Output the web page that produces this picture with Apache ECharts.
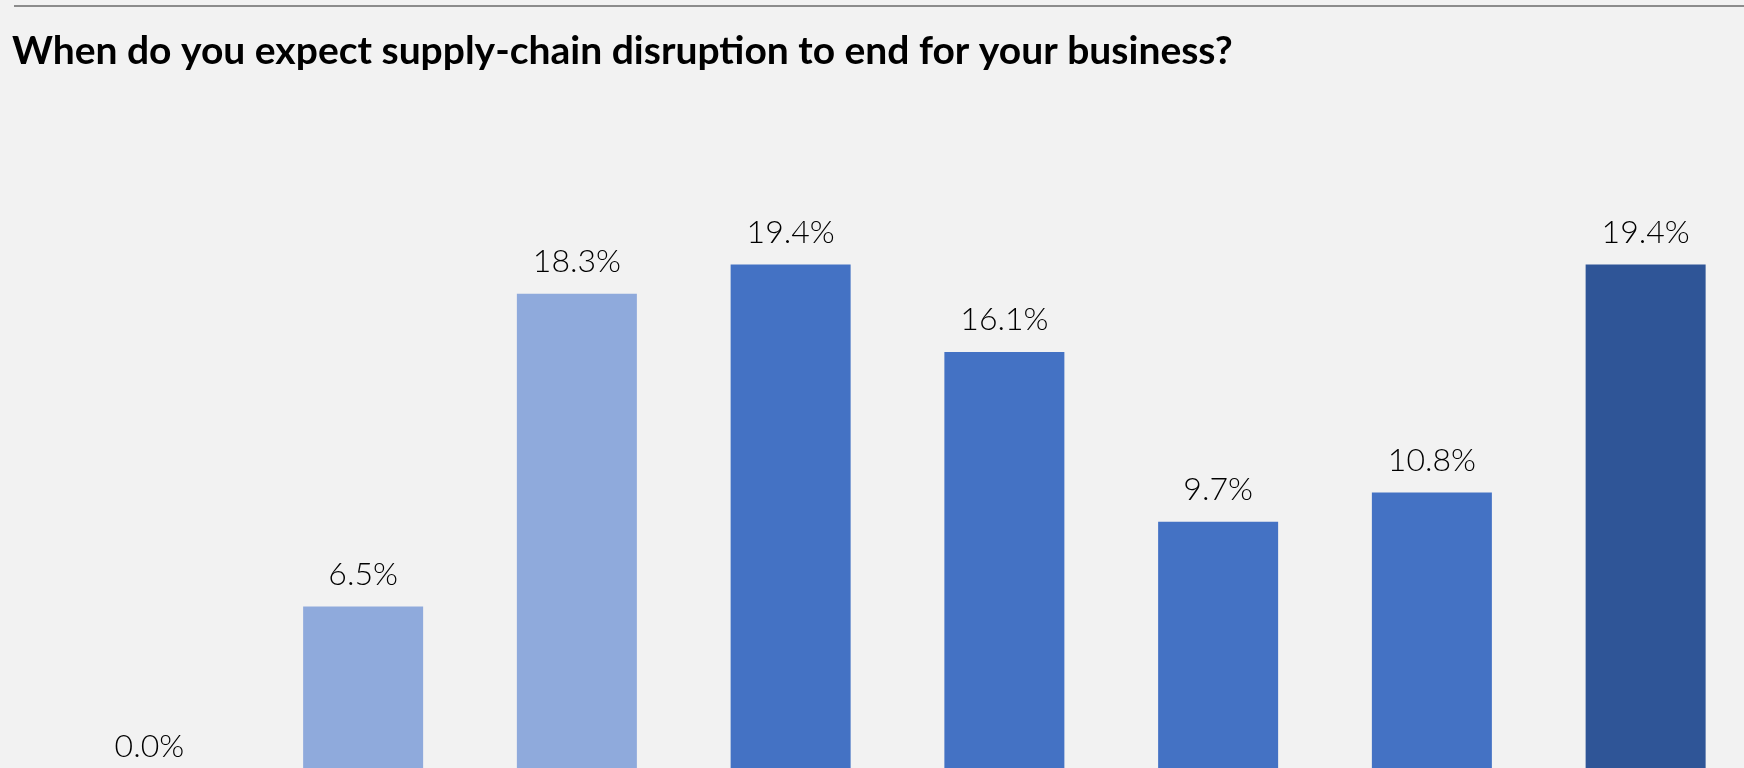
<!DOCTYPE html>
<html>
<head>
<meta charset="utf-8">
<script src="https://cdn.jsdelivr.net/npm/echarts@6/dist/echarts.min.js"></script>
<style>
  html, body { margin: 0; padding: 0; background: #f2f2f2; overflow: hidden; }
  /* the plot runs past the bottom and right edges of the frame */
  #frame { position: relative; width: 1744px; height: 768px; overflow: hidden; }
  #chart { position: absolute; left: 0; top: 0; width: 1760px; height: 790px; }
</style>
</head>
<body>
<div id="frame"><div id="chart"></div></div>
<script>
// Survey responses: share of businesses by expected end of supply-chain disruption
const categories = ['Already ended', 'Within 3 months', '3–6 months', '6–9 months', '9–12 months', '12–18 months', '18–24 months', 'Beyond 24 months'];
const shares = [0.0, 6.5, 18.3, 19.4, 16.1, 9.7, 10.8, 19.4];
const barColors = ['#8faadc', '#8faadc', '#8faadc', '#4472c4', '#4472c4', '#4472c4', '#4472c4', '#2f5597'];

const chart = echarts.init(document.getElementById('chart'));
chart.setOption({
  backgroundColor: '#f2f2f2',
  animation: false,
  graphic: [
    {
      type: 'line',
      shape: { x1: 14, y1: 6, x2: 1760, y2: 6 },
      style: { stroke: '#8c8c8c', lineWidth: 2 }
    },
    {
      type: 'text',
      left: 12,
      top: 32,
      style: {
        text: 'When do you expect supply-chain disruption to end for your business?',
        font: 'bold 39px Lato, "Open Sans", sans-serif',
        fill: '#000000'
      }
    }
  ],
  grid: { left: 42.5, right: 7.5, top: 116, bottom: 11 },
  xAxis: {
    type: 'category',
    data: categories,
    axisLine: { show: false },
    axisTick: { show: false },
    axisLabel: { show: false }
  },
  yAxis: {
    type: 'value',
    min: 0,
    max: 25,
    show: false,
    splitLine: { show: false }
  },
  series: [{
    type: 'bar',
    barWidth: 120,
    data: shares.map((v, i) => ({ value: v, itemStyle: { color: barColors[i] } })),
    label: {
      show: true,
      position: 'top',
      distance: 16,
      formatter: p => p.value.toFixed(1) + '%',
      fontFamily: 'Lato, "Open Sans", sans-serif',
      fontSize: 32,
      fontWeight: 300,
      color: '#000000'
    }
  }]
});
</script>
</body>
</html>
